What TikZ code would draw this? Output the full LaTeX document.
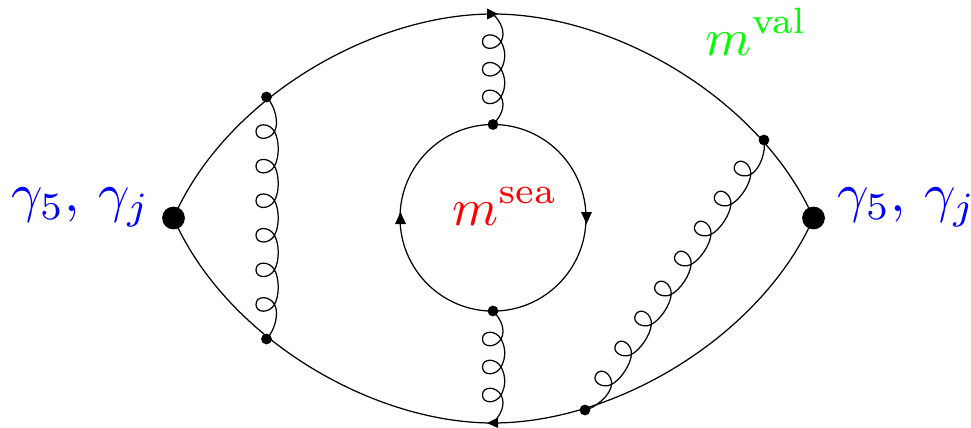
\documentclass[tikz,border=0pt]{standalone}
\usetikzlibrary{decorations,calc}
\def\gu{0.5pt}
\def\gc{8}
\def\gln{6}
\def\glP{(\pgfdecoratedpathlength/(\gln+1))}
\def\gp#1#2{\pgfpoint{(#1)*\gu}{(#2)*\gu}}
\def\gq#1#2{\pgfpoint{\glP+(#1)*\gu}{(#2)*\gu}}
\def\gloop{%
  \pgfpathcurveto{\gp{9}{\gc-5}}{\gp{9}{\gc-18.5}}{\gp{0}{\gc-18.5}}%
  \pgfpathcurveto{\gp{-9}{\gc-18.5}}{\gp{-9}{\gc-5}}{\gp{0}{\gc}}%
}
\pgfdeclaredecoration{gluonline}{lead}{
  \state{lead}[width=\glP,next state=coil]{
    \pgfpathcurveto{\gp{8}{8}}{\gq{-9}{\gc+5}}{\gq{0}{\gc}}
  }
  \state{coil}[width=\glP,switch if less than=1.5*\glP to leadout]{
    \gloop
    \pgfpathcurveto{\gp{9}{\gc+5}}{\gq{-9}{\gc+5}}{\gq{0}{\gc}}
  }
  \state{leadout}[width=\glP-1pt,next state=final]{
    \gloop
    \pgfpathcurveto{\gp{9}{\gc+5}}{\gq{-8}{8}}{\gq{0}{0}}
  }
  \state{final}{\pgfpathlineto{\pgfpointdecoratedpathlast}}
}
\newcommand\suplift[1]{\raisebox{0.6pt}{$\scriptstyle\rm #1$}}
\tikzset{
  x=0.5pt,y=-0.5pt,
  fermion/.style={draw=black,line width=0.62pt},
  gluon/.style={fermion,decorate,decoration={gluonline},/utils/exec={\def\gln{#1}}},
  vdot/.style={circle,fill=black,inner sep=0pt,minimum size=5.4pt},
  bigdot/.style={circle,fill=black,inner sep=0pt,minimum size=11.4pt},
  tip/.style={fill=black},
  lab/.style={inner sep=0pt,scale=2.62},
  gamlab/.style={inner sep=0pt,scale=2.75,text=vblue,anchor=base west},
}
\definecolor{vblue}{RGB}{0,0,255}
\definecolor{vred}{RGB}{255,0,0}
\definecolor{vgreen}{RGB}{0,255,0}
\begin{document}
\begin{tikzpicture}
\useasboundingbox (0,0) rectangle (971,428);
\node[bigdot] (L) at (173.5,218) {};
\node[bigdot] (R) at (813.5,218) {};
\coordinate (T) at (493,14);
\coordinate (B) at (493,423);
\node[vdot] (a) at (266.5,97) {};
\node[vdot] (b) at (266.5,339) {};
\node[vdot] (c) at (764,140) {};
\node[vdot] (d) at (585,410) {};
\node[vdot] (e) at (493,124.5) {};
\node[vdot] (f) at (493,311) {};
% outer fermion lines
\draw[fermion] (L.center) .. controls (225,100) and (370,14) .. (T);
\draw[fermion] (T) .. controls (616,14) and (761,100) .. (R.center);
\draw[fermion] (L.center) .. controls (225,336) and (370,423) .. (B);
\draw[fermion] (B) .. controls (616,423) and (761,336) .. (R.center);
% quark loop
\draw[fermion] (e.center) arc[start angle=90,end angle=-270,x radius=93,y radius=-93.3];
% gluons
\draw[gluon=6] (a.center) -- (b.center);
\draw[gluon=3] (T) -- (e.center);
\draw[gluon=3] (f.center) -- (B);
\draw[gluon=8] (c.center) -- (d.center);
% arrowheads
\fill[tip] (498,14) -- (487,8.5) -- (487,19.5) -- cycle;
\fill[tip] (487,423) -- (498,417.5) -- (498,428) -- cycle;
\fill[tip] (400.5,212) -- (395,224) -- (406,224) -- cycle;
\fill[tip] (586.5,224) -- (581,212) -- (592,212) -- cycle;
% labels
\node[gamlab] (l1) at (10.5,211) {$\gamma_5,\,\gamma_j$};
\node[gamlab] (l2) at (836.5,211) {$\gamma_5,\,\gamma_j$};
\node[lab,text=vred,anchor=base] (l3) at (505,225.5) {$m^{\suplift{sea}}$};
\node[lab,text=vgreen,anchor=base] (l4) at (756.5,55.5) {$m^{\suplift{val}}$};
\end{tikzpicture}
\end{document}
